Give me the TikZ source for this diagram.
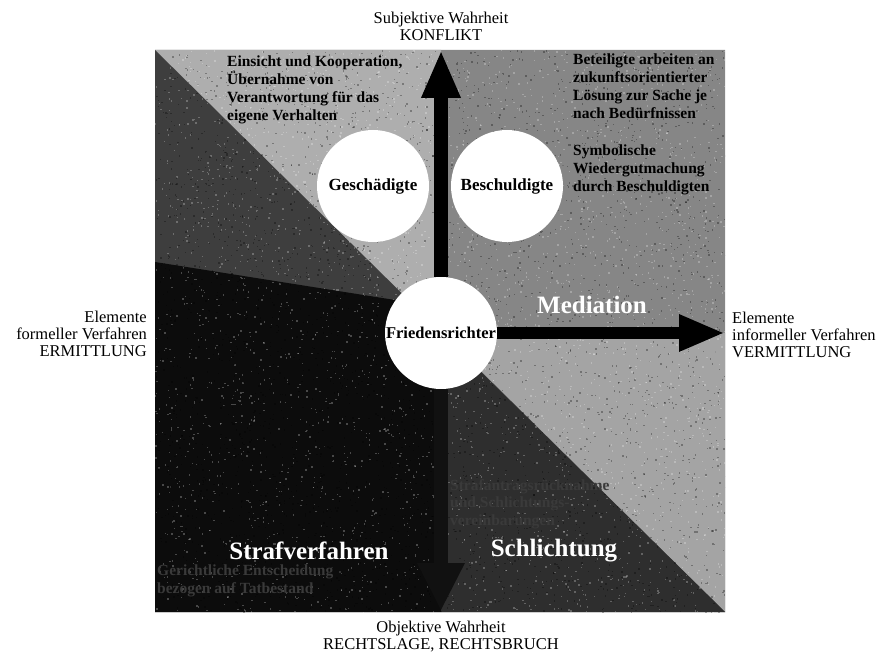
\documentclass[tikz,border=0pt]{standalone}
\usepackage{fontspec}
\setmainfont{Liberation Serif}
\usetikzlibrary{arrows.meta}
\definecolor{gUp}{HTML}{868686}
\definecolor{gLight}{HTML}{AEAEAE}
\definecolor{gLR}{HTML}{A4A4A4}
\definecolor{gDark}{HTML}{3E3E3E}
\definecolor{gBlack}{HTML}{0C0C0C}
\definecolor{gSch}{HTML}{2E2E2E}
\definecolor{gHide}{HTML}{3A3A3A}
\definecolor{gAxisLow}{HTML}{111111}
\begin{document}
\begin{tikzpicture}[x=1pt,y=-1pt,
  outer/.style={font=\fontsize{16.5}{17}\selectfont, inner sep=0pt},
  inbold/.style={font=\bfseries\fontsize{15.5}{17.7}\selectfont, align=left, inner sep=0pt, anchor=north west},
  hidden/.style={inbold, text=gHide},
  party/.style={circle, fill=white, minimum size=112pt, inner sep=0pt, font=\bfseries\fontsize{17}{19}\selectfont},
  bigl/.style={font=\bfseries\fontsize{25}{28}\selectfont, text=white, inner sep=0pt},
  axisarrow/.style={line width=14pt, -{Triangle[length=48pt,width=36pt]}},
]
\useasboundingbox (0,0) rectangle (888,655);
% corners of the square
\coordinate (TL) at (155,50);
\coordinate (TR) at (725,50);
\coordinate (BR) at (725,612);
\coordinate (BL) at (155,612);
\coordinate (C) at (441,333);
% background regions
\fill[gUp] (TL) -- (TR) -- (BR) -- cycle;
\fill[gLight] (TL) -- (441,50) -- (C) -- cycle;
\fill[gLR] (C) -- (725,333) -- (BR) -- cycle;
\fill[gDark] (TL) -- (BR) -- (BL) -- cycle;
\fill[gBlack] (155,262) -- (395,300) -- (C) -- (441,612) -- (BL) -- cycle;
\fill[gSch] (C) -- (BR) -- (441,612) -- cycle;
% grain
\pgfmathsetseed{7}
\begin{scope}
\clip (TL) rectangle (BR);
\foreach \i in {1,...,3500}{
  \fill[white, opacity=0.25] ({155+570*rnd},{50+562*rnd}) rectangle +(1.4,1.4);
  \fill[black, opacity=0.3] ({155+570*rnd},{50+562*rnd}) rectangle +(1.4,1.4);
}
\end{scope}
% texts inside
\node[inbold] (t1) at (227,56) {Einsicht und Kooperation,\\Übernahme von\\Verantwortung für das\\eigene Verhalten};
\node[inbold] (t2) at (573,54) {Beteiligte arbeiten an\\zukunftsorientierter\\Lösung zur Sache je\\nach Bedürfnissen};
\node[inbold] (t3) at (573,145) {Symbolische\\Wiedergutmachung\\durch Beschuldigten};
\node[hidden] (t4) at (450,479) {Strafantragsrücknahme\\und Schlichtungs-\\vereinbarungen};
\node[hidden] (t5) at (157,565) {Gerichtliche Entscheidung\\bezogen auf Tatbestand};
% parties
\node[party, font=\bfseries\fontsize{16.5}{19}\selectfont] (F) at (C) {Friedensrichter};
\node[party] (G) at (373,186) {Geschädigte};
\node[party] (B) at (507,186) {Beschuldigte};
% axes
\coordinate (topTip) at (441,50);
\coordinate (rightTip) at (725,333);
\coordinate (botTip) at (441,611);
\draw[axisarrow, black] (F.north) -- (topTip);
\draw[axisarrow, black, line width=12pt, -{Triangle[length=46pt,width=34pt]}] (F.east) -- (rightTip);
\draw[axisarrow, gAxisLow, -{Triangle[length=48pt,width=44pt]}] (F.south) -- (botTip);
% region labels
\node[bigl] (med) at (592,305) {Mediation};
\node[bigl] (straf) at (309,551) {Strafverfahren};
\node[bigl] (schl) at (554,551) {Schlichtung};
% outer labels
\node[outer, align=center] (top) at (441,26) {Subjektive Wahrheit\\KONFLIKT};
\node[outer, align=center] (bot) at (441,637) {Objektive Wahrheit\\RECHTSLAGE, RECHTSBRUCH};
\node[outer, align=right, anchor=east] (left) at (147,334) {Elemente\\formeller Verfahren\\ERMITTLUNG};
\node[outer, align=left, anchor=west] (right) at (732,335) {Elemente\\informeller Verfahren\\VERMITTLUNG};
\end{tikzpicture}
\end{document}
